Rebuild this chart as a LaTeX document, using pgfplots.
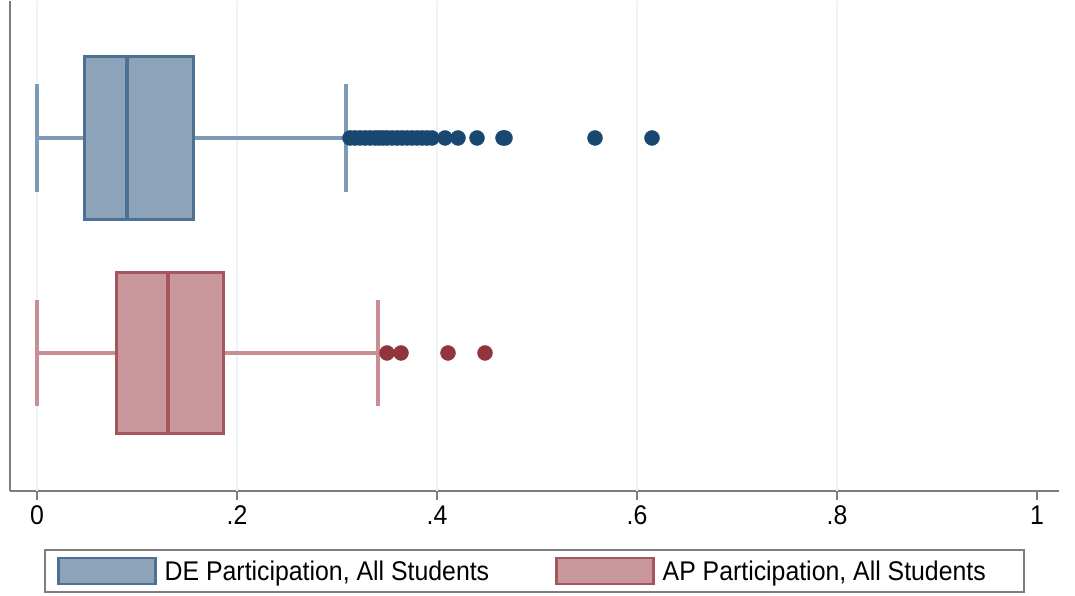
\documentclass[border=0pt]{standalone}
\usepackage{fontspec}
\setmainfont{Liberation Sans}[FakeStretch=0.92]
\usepackage{pgfplots}
\usepgfplotslibrary{statistics}
\pgfplotsset{compat=1.18}
\definecolor{deFill}{RGB}{141,163,185}
\definecolor{deEdge}{RGB}{78,112,149}
\definecolor{deWhisk}{RGB}{126,154,181}
\definecolor{deDot}{RGB}{26,71,111}
\definecolor{apFill}{RGB}{201,151,155}
\definecolor{apEdge}{RGB}{165,86,93}
\definecolor{apWhisk}{RGB}{201,142,147}
\definecolor{apDot}{RGB}{144,53,59}
\definecolor{gridc}{RGB}{238,244,245}
\definecolor{axgray}{RGB}{125,125,125}
\begin{document}
\begin{tikzpicture}
\path (-10pt,-105pt) rectangle (1065pt,490pt);
\begin{axis}[
  scale only axis, width=1049pt, height=490pt,
  xmin=-0.027, xmax=1.022, ymin=0.358, ymax=2.637,
  axis x line*=bottom, axis y line*=left,
  axis line style={draw=axgray, line width=2pt, -},
  ytick=\empty,
  xtick={0,0.2,0.4,0.6,0.8,1},
  xticklabels={0,.2,.4,.6,.8,1},
  tick align=outside, major tick length=9pt,
  x tick style={draw=axgray, line width=2pt},
  extra x ticks={0,0.2,0.4,0.6,0.8},
  extra x tick labels={},
  extra x tick style={grid=major, major tick length=0pt, grid style={draw=gridc, line width=1.5pt}},
  ticklabel style={font=\fontsize{27}{30}\selectfont},
  xticklabel style={yshift=-2pt},
  legend style={at={(0.5,-0.118)}, anchor=north, legend columns=2,
    draw=axgray, line width=2pt, font=\fontsize{27}{30}\selectfont,
    inner xsep=12pt, inner ysep=7pt,
    /tikz/every odd column/.append style={column sep=6pt},
    /tikz/every even column/.append style={column sep=64pt}},
  legend cell align=left,
]
\addplot[forget plot, draw=deEdge, fill=deFill, line width=3pt,
  boxplot prepared={draw position=2, lower whisker=0, lower quartile=0.047,
    median=0.090, upper quartile=0.156, upper whisker=0.309,
    box extend=0.754, whisker extend=0.506,
    every whisker/.style={draw=deWhisk, line width=3.5pt},
    every median/.style={draw=deEdge, line width=4pt}}] coordinates {};
\addplot[forget plot, draw=apEdge, fill=apFill, line width=3pt,
  boxplot prepared={draw position=1, lower whisker=0, lower quartile=0.079,
    median=0.131, upper quartile=0.186, upper whisker=0.341,
    box extend=0.749, whisker extend=0.493,
    every whisker/.style={draw=apWhisk, line width=3.5pt},
    every median/.style={draw=apEdge, line width=4pt}}] coordinates {};
\addplot[forget plot, only marks, mark=*, mark size=7.5pt, color=deDot] coordinates {
(0.313,2) (0.318,2) (0.323,2) (0.328,2) (0.333,2) (0.338,2) (0.342,2) (0.346,2)
(0.350,2) (0.355,2) (0.360,2) (0.365,2) (0.370,2) (0.375,2) (0.380,2) (0.385,2)
(0.390,2) (0.395,2) (0.408,2) (0.421,2) (0.440,2) (0.466,2) (0.468,2)
(0.558,2) (0.615,2)};
\addplot[forget plot, only marks, mark=*, mark size=7.5pt, color=apDot] coordinates {
(0.350,1) (0.364,1) (0.411,1) (0.448,1)};
\addlegendimage{legend image code/.code={\draw[draw=deEdge, fill=deFill, line width=2.5pt] (0pt,-13pt) rectangle (97pt,13pt);}}
\addlegendentry{DE Participation, All Students}
\addlegendimage{legend image code/.code={\draw[draw=apEdge, fill=apFill, line width=2.5pt] (0pt,-13pt) rectangle (97pt,13pt);}}
\addlegendentry{AP Participation, All Students\hspace*{24pt}}
\end{axis}
\end{tikzpicture}
\end{document}
